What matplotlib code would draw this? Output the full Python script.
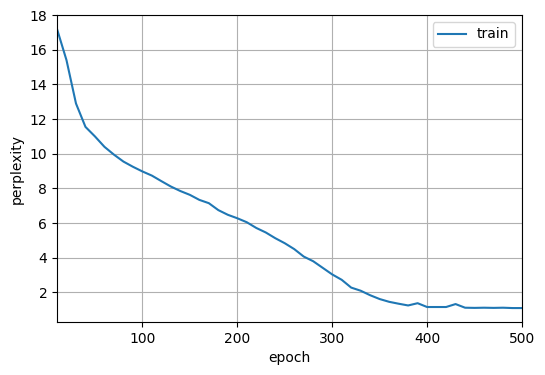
import matplotlib
matplotlib.use("Agg")
import matplotlib.pyplot as plt

epochs = list(range(10, 510, 10))
train_ppl = [17.2, 15.4, 12.9, 11.55, 11.0, 10.4, 9.95, 9.55, 9.25, 8.98,
             8.74, 8.42, 8.11, 7.85, 7.63, 7.34, 7.15, 6.75, 6.48, 6.28,
             6.05, 5.72, 5.46, 5.13, 4.84, 4.5, 4.07, 3.8, 3.42, 3.04,
             2.73, 2.28, 2.1, 1.84, 1.62, 1.46, 1.35, 1.25, 1.38, 1.16,
             1.16, 1.16, 1.33, 1.12, 1.11, 1.12, 1.11, 1.12, 1.10, 1.10]

fig = plt.figure(figsize=(5.45, 3.75), dpi=100)
ax = fig.add_axes([0.1046, 0.1413, 0.8532, 0.8187])
ax.plot(epochs, train_ppl, label="train")
ax.set_xlim(10, 500)
ax.set_xlabel("epoch")
ax.set_ylabel("perplexity")
ax.grid(True)
ax.legend(loc="upper right")
fig.savefig("out.png", dpi=100)
